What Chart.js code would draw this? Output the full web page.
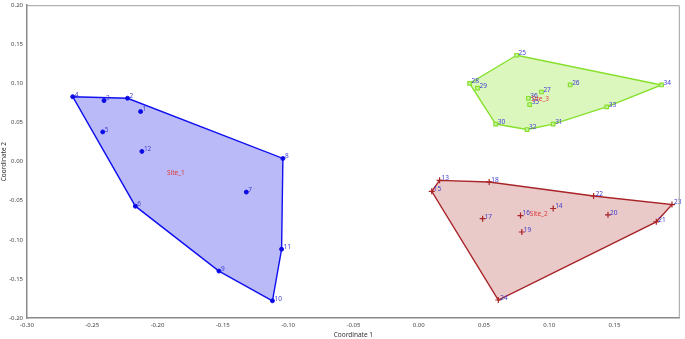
<!DOCTYPE html>
<html>
<head>
<meta charset="utf-8">
<script src="https://cdn.jsdelivr.net/npm/chart.js@4/dist/chart.umd.min.js"></script>
<style>
  html, body { margin: 0; padding: 0; background: #fff; }
  #wrap { width: 685px; height: 339px; }
</style>
</head>
<body>
<div id="wrap"><canvas id="chart" width="685" height="339"></canvas></div>
<script>
// site 1 (blue dots)
const site1Ids = [1, 2, 3, 4, 5, 6, 7, 8, 9, 10, 11, 12];
const site1X = [-0.213, -0.223, -0.241, -0.265, -0.242, -0.217, -0.132, -0.104, -0.153, -0.112, -0.105, -0.212];
const site1Y = [0.064, 0.081, 0.078, 0.083, 0.038, -0.057, -0.039, 0.004, -0.140, -0.178, -0.112, 0.013];
const site1Hull = [4, 2, 8, 11, 10, 9, 6, 4];

// site 2 (red crosses)
const site2Ids = [13, 14, 15, 16, 17, 18, 19, 20, 21, 22, 23, 24];
const site2X = [0.016, 0.103, 0.010, 0.078, 0.049, 0.054, 0.079, 0.145, 0.182, 0.134, 0.194, 0.061];
const site2Y = [-0.024, -0.060, -0.038, -0.069, -0.073, -0.026, -0.090, -0.068, -0.077, -0.044, -0.055, -0.177];
const site2Hull = [13, 18, 22, 23, 21, 24, 15, 13];

// site 3 (green squares)
const site3Ids = [25, 26, 27, 28, 29, 30, 31, 32, 33, 34, 35, 36];
const site3X = [0.075, 0.116, 0.094, 0.039, 0.045, 0.059, 0.103, 0.083, 0.144, 0.186, 0.085, 0.084];
const site3Y = [0.136, 0.098, 0.089, 0.100, 0.094, 0.048, 0.048, 0.041, 0.070, 0.098, 0.073, 0.081];
const site3Hull = [25, 34, 33, 31, 32, 30, 28, 25];

// group names and where their label sits
const siteNames = ['Site_1', 'Site_2', 'Site_3'];
const siteLabelX = [-0.186, 0.092, 0.093];
const siteLabelY = [-0.015, -0.067, 0.080];

const xMin = -0.30, xMax = 0.20, yMin = -0.20, yMax = 0.20;

function pts(ids, xs, ys) {
  return ids.map((id, i) => ({ x: xs[i], y: ys[i], id: id }));
}
function hull(order, ids, xs, ys) {
  return order.map(id => {
    const i = ids.indexOf(id);
    return { x: xs[i], y: ys[i] };
  });
}

const sites = [
  { ids: site1Ids, x: site1X, y: site1Y, hull: site1Hull, line: '#1010f0', fill: 'rgba(40,40,235,0.32)', style: 'circle', r: 2, pf: '#0a0ae0', bw: 1 },
  { ids: site2Ids, x: site2X, y: site2Y, hull: site2Hull, line: '#a82428', fill: 'rgba(170,40,40,0.25)', style: 'cross', r: 3, pf: '#a82428', bw: 1.2 },
  { ids: site3Ids, x: site3X, y: site3Y, hull: site3Hull, line: '#86e02c', fill: 'rgba(140,230,40,0.3)', style: 'rect', r: 2.5, pf: 'rgba(200,245,160,1)', bw: 1.2 }
];

const datasets = [];
sites.forEach((s, k) => {
  datasets.push({
    label: siteNames[k] + ' points',
    data: pts(s.ids, s.x, s.y),
    pointStyle: s.style,
    pointRadius: s.r,
    pointBackgroundColor: s.pf,
    pointBorderColor: s.line,
    pointBorderWidth: s.bw,
    showLine: false,
    order: 1
  });
  datasets.push({
    label: siteNames[k],
    data: hull(s.hull, s.ids, s.x, s.y),
    showLine: true,
    borderColor: s.line,
    borderWidth: 1.4,
    backgroundColor: s.fill,
    fill: 'shape',
    pointRadius: 0,
    tension: 0,
    order: 2
  });
});

// numbers next to each point + site name labels
const labelPlugin = {
  id: 'labels',
  afterDatasetsDraw(chart) {
    const ctx = chart.ctx;
    const xs = chart.scales.x, ys = chart.scales.y;
    ctx.save();
    ctx.font = '6.5px "Noto Sans", sans-serif';
    ctx.fillStyle = '#3b3bd0';
    ctx.textBaseline = 'middle';
    ctx.textAlign = 'left';
    sites.forEach(s => {
      s.ids.forEach((id, i) => {
        const px = xs.getPixelForValue(s.x[i]);
        const py = ys.getPixelForValue(s.y[i]);
        ctx.fillText(String(id), px + 2, py - 2);
      });
    });
    ctx.fillStyle = '#e03a3a';
    ctx.textAlign = 'center';
    siteNames.forEach((n, k) => {
      ctx.fillText(n, xs.getPixelForValue(siteLabelX[k]), ys.getPixelForValue(siteLabelY[k]));
    });
    ctx.restore();
  },
  afterDraw(chart) {
    const a = chart.chartArea, ctx = chart.ctx;
    ctx.save();
    ctx.strokeStyle = '#a0a0a0';
    ctx.lineWidth = 1;
    ctx.beginPath();
    ctx.moveTo(a.left, a.top + 0.5);
    ctx.lineTo(a.right - 0.5, a.top + 0.5);
    ctx.lineTo(a.right - 0.5, a.bottom);
    ctx.stroke();
    ctx.restore();
  }
};

const tickFont = { family: '"Noto Sans", sans-serif', size: 6 };

new Chart(document.getElementById('chart'), {
  type: 'scatter',
  data: { datasets: datasets },
  plugins: [labelPlugin],
  options: {
    responsive: false,
    animation: false,
    layout: { padding: { top: 3, right: 2, left: 0, bottom: 0 } },
    plugins: { legend: { display: false }, tooltip: { enabled: false } },
    scales: {
      x: {
        min: xMin, max: xMax,
        grid: { display: false, drawTicks: true, tickLength: 3, color: '#888' },
        border: { color: '#8a8a8a', width: 1.5 },
        ticks: { stepSize: 0.05, font: tickFont, color: '#444', padding: 1, maxRotation: 0, autoSkip: false,
                 callback: v => (v > 0.19 ? null : v.toFixed(2)) },
        title: { display: true, text: 'Coordinate 1', font: { family: '"Noto Sans", sans-serif', size: 6.5 }, color: '#333', padding: { top: 2, bottom: 0 } },
        afterFit: sc => { sc.height = 21; }
      },
      y: {
        min: yMin, max: yMax,
        grid: { display: false, drawTicks: true, tickLength: 3, color: '#888' },
        border: { color: '#8a8a8a', width: 1.5 },
        ticks: { stepSize: 0.05, font: tickFont, color: '#444', padding: 1, autoSkip: false,
                 callback: v => v.toFixed(2) },
        title: { display: true, text: 'Coordinate 2', font: { family: '"Noto Sans", sans-serif', size: 6.5 }, color: '#333', padding: { top: 0, bottom: 0 } },
        afterFit: sc => { sc.width = 27; }
      }
    }
  }
});
</script>
</body>
</html>
